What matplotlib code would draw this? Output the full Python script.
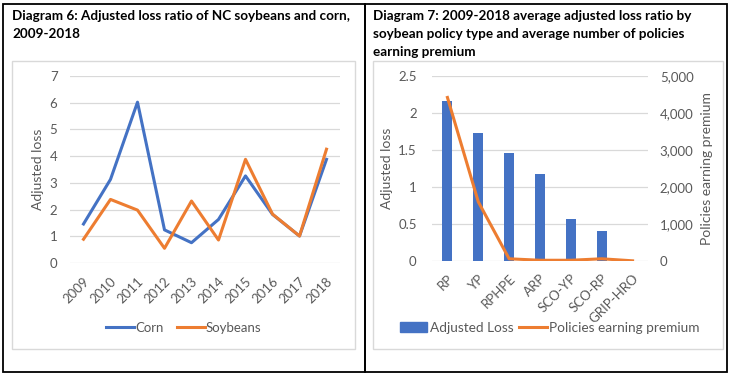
import matplotlib.pyplot as plt
from matplotlib.patches import Rectangle
from matplotlib.lines import Line2D
from matplotlib.ticker import FuncFormatter

plt.rcParams['font.family'] = ['Lato', 'DejaVu Sans']

# Diagram 6 data
years = ['2009', '2010', '2011', '2012', '2013', '2014', '2015', '2016', '2017', '2018']
corn = [1.46, 3.13, 6.02, 1.24, 0.76, 1.63, 3.26, 1.82, 1.01, 3.88]
soybeans = [0.89, 2.38, 1.98, 0.55, 2.32, 0.86, 3.88, 1.83, 1.01, 4.26]

# Diagram 7 data
policy_types = ['RP', 'YP', 'RPHPE', 'ARP', 'SCO-YP', 'SCO-RP', 'GRIP-HRO']
adjusted_loss = [2.16, 1.73, 1.46, 1.18, 0.57, 0.41, 0.0]
policies_premium = [4420, 1600, 60, 20, 20, 60, 5]

BLUE = '#4472C4'
ORANGE = '#ED7D31'
GRID = '#D9D9D9'
TXT = '#595959'
W, H = 735, 376
TICK_FS = 9.5
LAB_FS = 10


def fx(px):
    return px / W


def fy(py):
    return 1 - py / H


fig = plt.figure(figsize=(7.35, 3.76), dpi=100)

# table cell borders
for x0, x1 in [(3, 365), (365, 727)]:
    fig.patches.append(Rectangle((fx(x0), fy(372)), fx(x1 - x0), (372 - 4) / H,
                                 transform=fig.transFigure, fill=False,
                                 edgecolor='black', lw=1.3))
# chart area borders
for x0, x1 in [(12, 355), (373, 723)]:
    fig.patches.append(Rectangle((fx(x0), fy(349)), fx(x1 - x0), (349 - 61) / H,
                                 transform=fig.transFigure, fill=False,
                                 edgecolor=GRID, lw=1.0))

# titles
title_kw = dict(fontsize=9.7, fontweight='bold', va='center', ha='left')
fig.text(fx(12), fy(16), 'Diagram 6: Adjusted loss ratio of NC soybeans and corn,', **title_kw)
fig.text(fx(12), fy(34), '2009-2018', **title_kw)
fig.text(fx(373), fy(16), 'Diagram 7: 2009-2018 average adjusted loss ratio by', **title_kw)
fig.text(fx(373), fy(34), 'soybean policy type and average number of policies', **title_kw)
fig.text(fx(373), fy(52), 'earning premium', **title_kw)


def style_axis(ax):
    for s in ax.spines.values():
        s.set_visible(False)
    ax.tick_params(length=0, colors=TXT, labelsize=TICK_FS)
    ax.grid(axis='y', color=GRID, lw=0.9)
    ax.set_axisbelow(True)


# ---- Diagram 6 ----
ax1 = fig.add_axes([fx(70), fy(263), fx(270), 187 / H])
x = range(len(years))
ax1.plot(x, corn, color=BLUE, lw=2.2, label='Corn')
ax1.plot(x, soybeans, color=ORANGE, lw=2.2, label='Soybeans')
ax1.set_xlim(-0.5, len(years) - 0.5)
ax1.set_ylim(0, 7)
ax1.set_yticks(range(0, 8))
ax1.set_xticks(list(x))
ax1.set_xticklabels(years, rotation=45, ha='right', rotation_mode='anchor')
style_axis(ax1)
ax1.tick_params(axis='x', pad=9)
ax1.tick_params(axis='y', pad=9)
ax1.set_ylabel('Adjusted loss', color=TXT, fontsize=LAB_FS, labelpad=4)
ax1.legend(loc='center', bbox_to_anchor=(fx(184), fy(328)), bbox_transform=fig.transFigure,
           ncol=2, frameon=False, fontsize=9.5, labelcolor=TXT, handlelength=2.1,
           handletextpad=0.1, columnspacing=1.0)

# ---- Diagram 7 ----
ax2 = fig.add_axes([fx(432), fy(261), fx(216), 185 / H])
xp = range(len(policy_types))
ax2.bar(xp, adjusted_loss, width=0.32, color=BLUE, label='Adjusted Loss')
ax2.set_xlim(-0.5, len(policy_types) - 0.5)
ax2.set_ylim(0, 2.5)
ax2.set_yticks([0, 0.5, 1, 1.5, 2, 2.5])
ax2.yaxis.set_major_formatter(FuncFormatter(lambda v, p: f'{v:g}'))
ax2.set_xticks(list(xp))
ax2.set_xticklabels(policy_types, rotation=45, ha='right', rotation_mode='anchor')
style_axis(ax2)
ax2.tick_params(axis='x', pad=8)
ax2.tick_params(axis='y', pad=11)
ax2.set_ylabel('Adjusted loss', color=TXT, fontsize=LAB_FS, labelpad=4)

ax3 = ax2.twinx()
for s in ax3.spines.values():
    s.set_visible(False)
ax3.plot(xp, policies_premium, color=ORANGE, lw=2.2, label='Policies earning premium')
ax3.set_ylim(0, 5000)
ax3.set_yticks(range(0, 5001, 1000))
ax3.yaxis.set_major_formatter(FuncFormatter(lambda v, p: f'{int(v):,}'))
ax3.tick_params(length=0, colors=TXT, labelsize=TICK_FS, pad=8.5)
ax3.set_ylabel('Policies earning premium', color=TXT, fontsize=LAB_FS, labelpad=5)

handles = [Rectangle((0, 0), 1, 1, color=BLUE),
           Line2D([], [], color=ORANGE, lw=2.2)]
ax2.legend(handles, ['Adjusted Loss', 'Policies earning premium'], loc='center',
           bbox_to_anchor=(fx(550), fy(328)), bbox_transform=fig.transFigure,
           ncol=2, frameon=False, fontsize=9.8, labelcolor=TXT, handlelength=2.0,
           handletextpad=0.2, columnspacing=0.4)

fig.savefig('out.png', dpi=100)
